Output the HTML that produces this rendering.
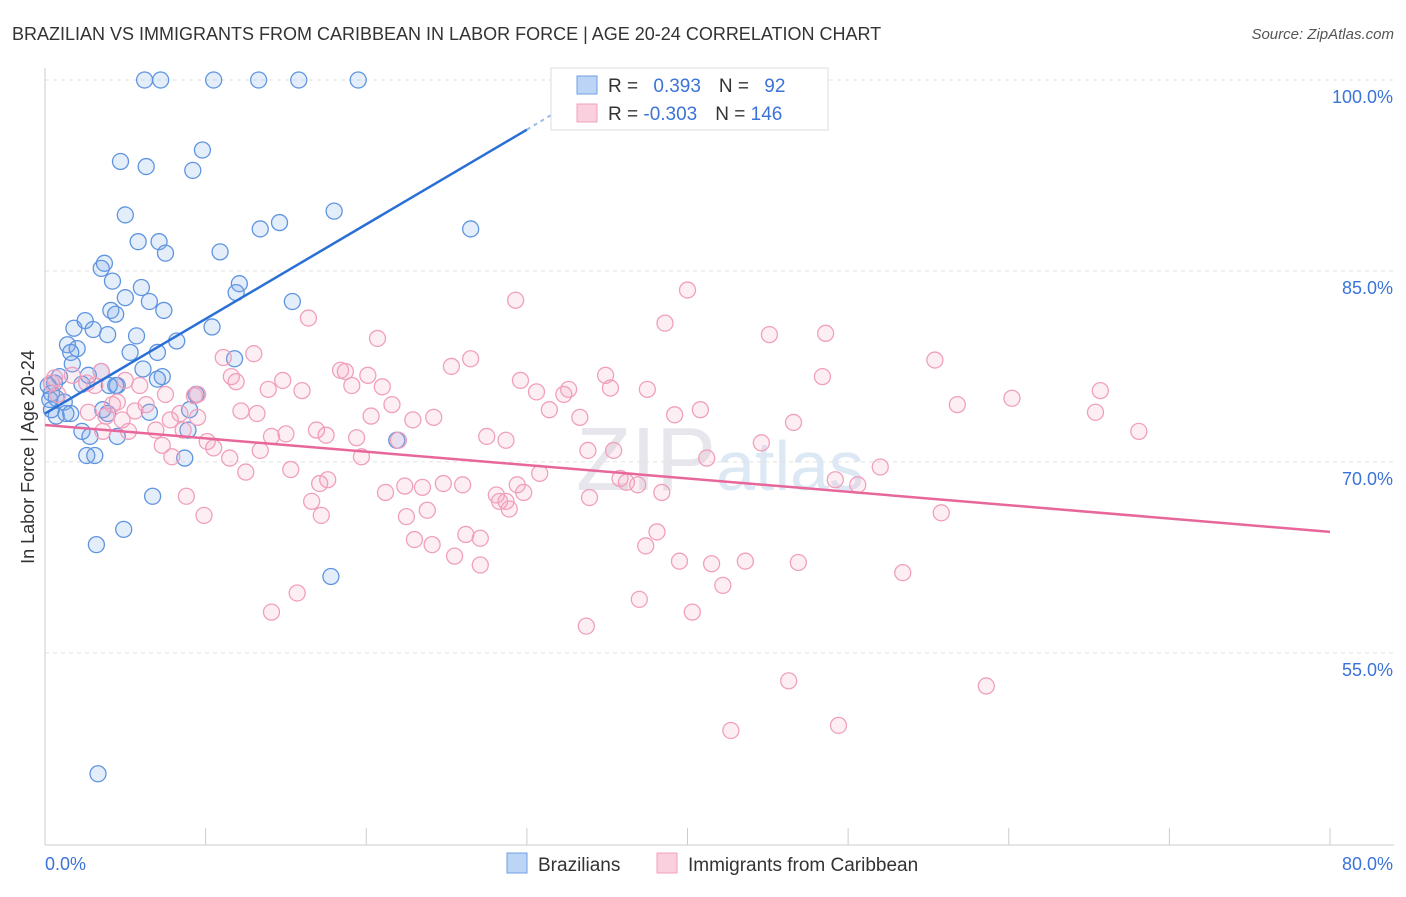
<!DOCTYPE html>
<html><head><meta charset="utf-8"><style>
body{margin:0;background:#fff;font-family:"Liberation Sans",sans-serif;}
svg text{font-family:"Liberation Sans",sans-serif;}
</style></head><body>
<svg id="chart" width="1406" height="892" viewBox="0 0 1406 892" xmlns="http://www.w3.org/2000/svg">
<text x="12" y="40" font-size="18" fill="#333">BRAZILIAN VS IMMIGRANTS FROM CARIBBEAN IN LABOR FORCE | AGE 20-24 CORRELATION CHART</text>
<text x="1394" y="39" font-size="15" fill="#555" text-anchor="end" font-style="italic">Source: ZipAtlas.com</text>
<text x="720" y="490" font-size="90" fill="#e6e6ec" text-anchor="middle" font-family="Liberation Serif">ZIP<tspan fill="#dde8f5" font-family="Liberation Sans" font-size="70">atlas</tspan></text>
<g id="grid"></g>
<g id="axes"></g>
<g id="blue"></g>
<g id="pink"></g>
<g id="trends"></g>
<text transform="translate(34,457) rotate(-90)" font-size="18" fill="#333" text-anchor="middle">In Labor Force | Age 20-24</text>
<g>
<rect x="551" y="68" width="277" height="62" fill="#fff" stroke="#ddd"/>
<rect x="577" y="76" width="20" height="18" fill="#bcd4f5" stroke="#6fa0e6"/>
<rect x="577" y="104" width="20" height="18" fill="#fbd0de" stroke="#f0a0bc"/>
<text x="608" y="92" font-size="19" fill="#333">R = <tspan fill="#3b73d9" dx="10">0.393</tspan><tspan dx="18" fill="#333">N = </tspan><tspan fill="#3b73d9" dx="10">92</tspan></text>
<text x="608" y="120" font-size="19" fill="#333">R = <tspan fill="#3b73d9">-0.303</tspan><tspan dx="18" fill="#333">N = </tspan><tspan fill="#3b73d9">146</tspan></text>
</g>
<g>
<rect x="507" y="853" width="20" height="20" fill="#bcd4f5" stroke="#6fa0e6"/>
<text x="538" y="871" font-size="19" fill="#333">Brazilians</text>
<rect x="657" y="853" width="20" height="20" fill="#fbd0de" stroke="#f0a0bc"/>
<text x="688" y="871" font-size="19" fill="#333">Immigrants from Caribbean</text>
</g>
</svg>
<script>
const blueX=[6.2,7.2,10.5,13.3,15.8,19.5,4.7,6.3,9.8,9.2,5.0,5.8,7.1,7.5,10.9,13.4,14.6,18.0,26.5,3.5,3.7,4.2,6.0,5.0,6.5,7.4,12.1,11.9,15.4,4.1,4.4,1.8,2.5,3.0,3.9,5.7,8.2,10.4,1.4,2.0,1.6,5.3,7.0,1.7,11.8,6.1,7.3,7.0,3.5,0.9,2.7,0.6,2.3,4.5,4.4,9.4,0.4,0.7,1.2,0.4,0.7,1.3,1.6,3.6,3.9,6.5,9.0,8.9,2.3,2.8,4.5,21.9,2.6,3.1,8.7,6.7,4.9,3.2,17.8,3.3,0.2,0.3,4.0];
const blueY=[100,100,100,100,100,100,93.6,93.2,94.5,92.9,89.4,87.3,87.3,86.4,86.5,88.3,88.8,89.7,88.3,85.2,85.6,84.2,83.7,82.9,82.6,81.9,84.0,83.3,82.6,81.9,81.6,80.5,81.1,80.4,80.0,79.9,79.5,80.6,79.2,78.9,78.6,78.6,78.6,77.7,78.1,77.3,76.7,76.5,77.1,76.7,76.8,76.2,76.1,76.0,76.0,75.3,75.4,75.0,74.7,74.1,73.6,73.8,73.8,74.1,73.8,73.9,74.1,72.5,72.4,72.0,72.0,71.7,70.5,70.5,70.3,67.3,64.7,63.5,61.0,45.5,76.0,74.9,76.0];
const pinkX=[29.3,40.0,38.6,45.1,48.6,55.4,16.4,20.7,11.1,13.0,11.6,11.9,9.5,9.3,13.9,14.8,16.0,18.4,18.7,20.1,19.1,21.0,21.6,20.3,24.2,22.9,25.3,26.5,29.6,30.6,32.6,32.3,31.4,33.3,34.9,35.2,37.5,39.2,40.8,48.4,60.2,65.7,65.4,68.1,56.8,46.6,44.6,41.2,35.4,52.0,50.6,49.2,55.8,33.9,36.2,36.9,38.4,35.8,30.8,29.4,29.8,28.7,28.1,28.3,28.9,26.0,24.8,23.5,22.4,21.2,23.8,22.5,23.0,24.1,26.2,27.1,25.5,27.1,17.1,17.6,16.6,17.2,15.3,12.5,8.8,9.9,7.9,10.5,11.5,13.4,15.0,16.9,17.5,19.4,22.0,19.7,27.5,28.7,33.8,38.1,37.4,39.5,41.5,43.6,46.9,53.4,42.2,37.0,40.3,33.7,14.1,15.7,46.3,58.6,49.4,42.7,5.0,5.9,7.5,3.1,1.7,0.6,0.4,2.6,3.5,4.5,4.2,5.6,4.8,6.3,6.9,7.3,7.8,8.6,9.5,10.1,8.4,12.2,13.2,14.1,0.8,2.7,3.8,5.2,3.6];
const pinkY=[82.7,83.5,80.9,80.0,80.1,78.0,81.3,79.7,78.2,78.5,76.7,76.3,75.3,75.2,75.7,76.4,75.6,77.2,77.1,76.8,76.0,75.9,74.5,73.6,73.5,73.3,77.5,78.1,76.4,75.5,75.7,75.3,74.1,73.5,76.8,75.8,75.7,73.7,74.1,76.7,75.0,75.6,73.9,72.4,74.5,73.1,71.5,70.3,70.9,69.6,68.2,68.6,66.0,67.2,68.4,68.2,67.6,68.7,69.1,68.2,67.6,66.9,67.4,66.9,66.3,68.2,68.3,68.0,68.1,67.6,66.2,65.7,63.9,63.5,64.3,64.0,62.6,61.9,68.3,68.6,66.9,65.8,69.4,69.2,67.3,65.8,70.4,71.1,70.3,70.9,72.2,72.5,72.1,71.9,71.7,70.4,72.0,71.7,70.9,64.5,63.4,62.2,62.0,62.2,62.1,61.3,60.3,59.2,58.2,57.1,58.2,59.7,52.8,52.4,49.3,48.9,76.4,76.0,75.3,76.0,76.8,76.6,76.2,76.2,77.1,74.7,74.5,74.0,73.3,74.5,72.5,71.3,73.3,72.5,73.5,71.6,73.8,74.0,73.8,72.0,75.3,73.9,73.6,72.4,72.4];
const yTicks=[100,85,70,55];
const yTickLabels=["100.0%","85.0%","70.0%","55.0%"];
const xTicks=[0,10,20,30,40,50,60,70,80];
const blueTrend=[[0,73.8],[30.0,96.1]];
const blueTrendDash=[[30.0,96.1],[33.3,98.6]];
const pinkTrend=[[0,72.9],[80,64.5]];
const NS="http://www.w3.org/2000/svg";
const sx=v=>45+v*(1285/80);
const sy=v=>80+(100-v)*12.73;
function mk(tag,attrs,parent){const e=document.createElementNS(NS,tag);for(const k in attrs)e.setAttribute(k,attrs[k]);parent.appendChild(e);return e;}
const grid=document.getElementById('grid'),axes=document.getElementById('axes');
yTicks.forEach((t,i)=>{
 const l=mk('line',{x1:45,x2:1394,y1:sy(t),y2:sy(t),stroke:'#e2e2e2','stroke-dasharray':'4,4'},grid);
 
 
 const tx=mk('text',{x:1393,y:sy(t)+23,'font-size':18,fill:'#3b73d9','text-anchor':'end'},axes);
 tx.textContent=yTickLabels[i];
 
 
});
mk('line',{x1:45,x2:1394,y1:sy(100),y2:sy(100),stroke:'#e2e2e2','stroke-dasharray':'4,4'},grid);
const ya=mk('line',{x1:45,x2:45,y1:68,y2:845,stroke:'#ccc'},axes);


const xa=mk('line',{x1:45,x2:1394,y1:845,y2:845,stroke:'#ccc'},axes);


xTicks.forEach(t=>{
 const l=mk('line',{x1:sx(t),x2:sx(t),y1:828,y2:845,stroke:'#ccc'},axes);
 
 
});
const x0=mk('text',{x:45,y:870,'font-size':18,fill:'#3b73d9'},axes);x0.textContent='0.0%';


const x1=mk('text',{x:1393,y:870,'font-size':18,fill:'#3b73d9','text-anchor':'end'},axes);x1.textContent='80.0%';


const pg=document.getElementById('pink');
pinkX.forEach((v,i)=>{
 const c=mk('circle',{cx:sx(v),cy:sy(pinkY[i]),r:8,fill:'rgba(244,160,190,0.18)',stroke:'#f0a0bc','stroke-width':1.3},pg);
 
 
});
const bg=document.getElementById('blue');
blueX.forEach((v,i)=>{
 const c=mk('circle',{cx:sx(v),cy:sy(blueY[i]),r:8,fill:'rgba(120,165,230,0.2)',stroke:'#5f95e0','stroke-width':1.3},bg);
 
 
});
const tg=document.getElementById('trends');
const bt=mk('line',{x1:sx(blueTrend[0][0]),y1:sy(blueTrend[0][1]),x2:sx(blueTrend[1][0]),y2:sy(blueTrend[1][1]),stroke:'#2a6fd6','stroke-width':2.5},tg);


const bd=mk('line',{x1:sx(blueTrendDash[0][0]),y1:sy(blueTrendDash[0][1]),x2:sx(blueTrendDash[1][0]),y2:sy(blueTrendDash[1][1]),stroke:'#9bbdea','stroke-width':2,'stroke-dasharray':'4,4'},tg);


const pt=mk('line',{x1:sx(pinkTrend[0][0]),y1:sy(pinkTrend[0][1]),x2:sx(pinkTrend[1][0]),y2:sy(pinkTrend[1][1]),stroke:'#e8679a','stroke-width':2.5},tg);


</script>
</body></html>
